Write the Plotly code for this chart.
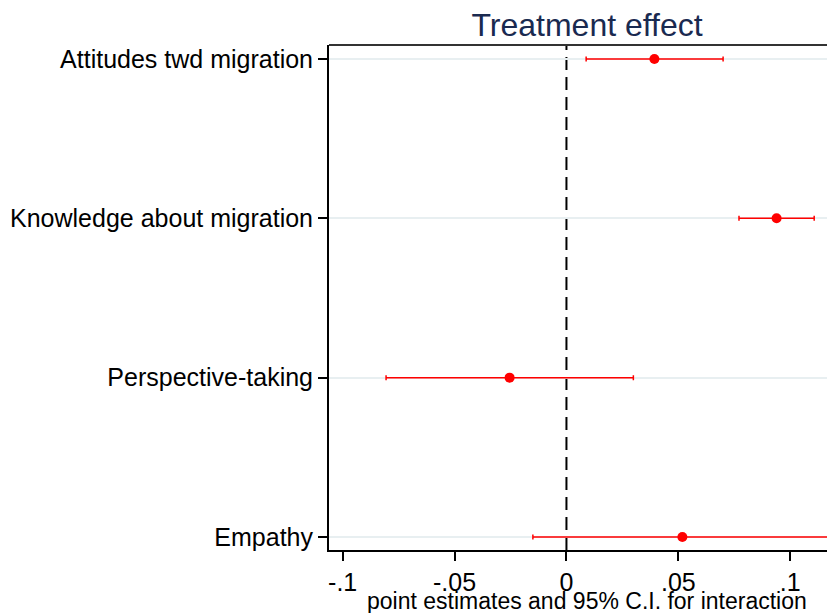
import plotly.graph_objects as go

categories = ["Attitudes twd migration", "Knowledge about migration", "Perspective-taking", "Empathy"]
estimates = [0.0393, 0.0939, -0.0254, 0.0518]
ci_lower = [0.0088, 0.0771, -0.0806, -0.0150]
ci_upper = [0.0700, 0.1107, 0.0299, 0.1181]
x_ticks = [-0.1, -0.05, 0, 0.05, 0.1]
x_tick_labels = ["-.1", "-.05", "0", ".05", ".1"]

ypos = list(range(1, len(categories) + 1))

fig = go.Figure()
fig.add_trace(go.Scatter(
    x=estimates, y=ypos, mode="markers",
    marker=dict(color="#ff0000", size=10, symbol="circle"),
    error_x=dict(type="data", symmetric=False,
                 array=[u - e for u, e in zip(ci_upper, estimates)],
                 arrayminus=[e - l for e, l in zip(estimates, ci_lower)],
                 color="#ff0000", thickness=1.5, width=2.5),
    showlegend=False,
))

fig.add_shape(type="line", xref="x", yref="paper", x0=0, x1=0, y0=0, y1=1,
              line=dict(color="black", width=2, dash="13px,7px"), layer="below")
fig.add_shape(type="line", xref="paper", yref="paper", x0=0, x1=1, y0=1, y1=1,
              line=dict(color="#333333", width=2))

font_family = "Liberation Sans, Arial, sans-serif"

fig.add_annotation(text="point estimates and 95% C.I. for interaction",
                   xref="paper", yref="paper", x=0.51, y=0, xanchor="center",
                   yanchor="middle", yshift=-51, showarrow=False,
                   font=dict(family=font_family, size=23, color="black"))

fig.update_layout(
    width=827, height=605,
    margin=dict(l=321, r=0, t=37, b=63),
    paper_bgcolor="white", plot_bgcolor="white",
    title=dict(text="Treatment effect", x=0.51, xref="paper", xanchor="center",
               y=1, yref="paper", yanchor="bottom", pad=dict(b=9),
               font=dict(family=font_family, size=32, color="#1a2a50")),
    font=dict(family=font_family, color="black"),
    xaxis=dict(range=[-0.1061, 0.12], tickvals=x_ticks, ticktext=x_tick_labels,
               ticks="outside", ticklen=9, tickwidth=2, tickcolor="black",
               showline=True, linecolor="black", linewidth=2,
               showgrid=False, zeroline=False,
               tickfont=dict(size=25, color="black")),
    yaxis=dict(range=[4.082, 0.912], tickvals=ypos, ticktext=categories,
               ticks="outside", ticklen=9, tickwidth=2, tickcolor="black",
               showline=True, linecolor="black", linewidth=2,
               showgrid=True, gridcolor="#e8eff1", gridwidth=2,
               zeroline=False, tickfont=dict(size=25, color="black")),
)

fig.write_html("out.html")
